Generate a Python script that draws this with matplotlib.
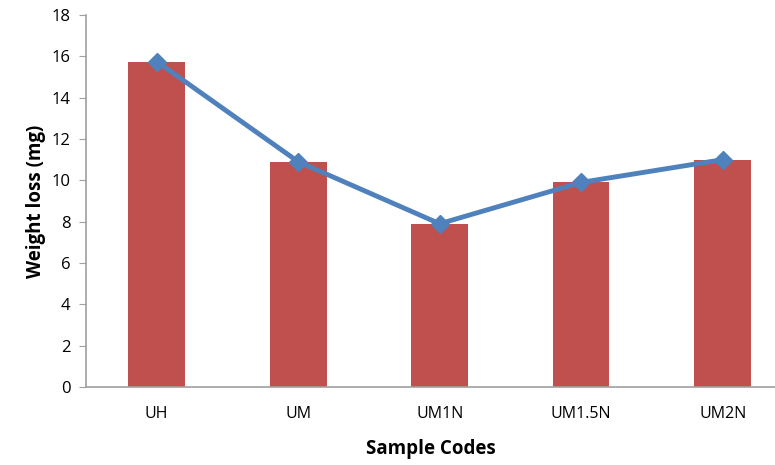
import numpy as np
import matplotlib.pyplot as plt

# Data
categories = ['UH', 'UM', 'UM1N', 'UM1.5N', 'UM2N']
weight_loss = [15.75, 10.9, 7.9, 9.9, 11.0]
y_ticks = [0, 2, 4, 6, 8, 10, 12, 14, 16, 18]

plt.rcParams['font.family'] = ['Open Sans', 'DejaVu Sans']

fig = plt.figure(figsize=(7.75, 4.65), dpi=100)
ax = fig.add_axes([86 / 775, 78 / 465, 1 - 86 / 775, 372 / 465])

x = np.arange(len(categories))

# Bars and the line over them
ax.bar(x, weight_loss, width=0.4, color='#C0504D', zorder=2)
ax.plot(x, weight_loss, color='#4F81BD', linewidth=3.5, marker='D',
        markersize=9.5, zorder=3, solid_capstyle='round')

ax.set_xlim(-0.5, 4.37)
ax.set_ylim(0, 18)
ax.set_yticks(y_ticks)
ax.set_xticks(x)
ax.set_xticklabels(categories)

# Axis styling
for side in ['top', 'right']:
    ax.spines[side].set_visible(False)
for side in ['left', 'bottom']:
    ax.spines[side].set_color('#A0A0A0')
    ax.spines[side].set_linewidth(1.2)
ax.tick_params(axis='y', colors='#A0A0A0', length=5, labelcolor='black',
               labelsize=12, pad=6)
ax.tick_params(axis='x', length=0, labelsize=11.5, pad=14)

ax.set_xlabel('Sample Codes', fontsize=13.5, fontweight='bold', labelpad=12)
ax.set_ylabel('Weight loss (mg)', fontsize=13.5, fontweight='bold', labelpad=4)

fig.savefig('out.png', dpi=100)
